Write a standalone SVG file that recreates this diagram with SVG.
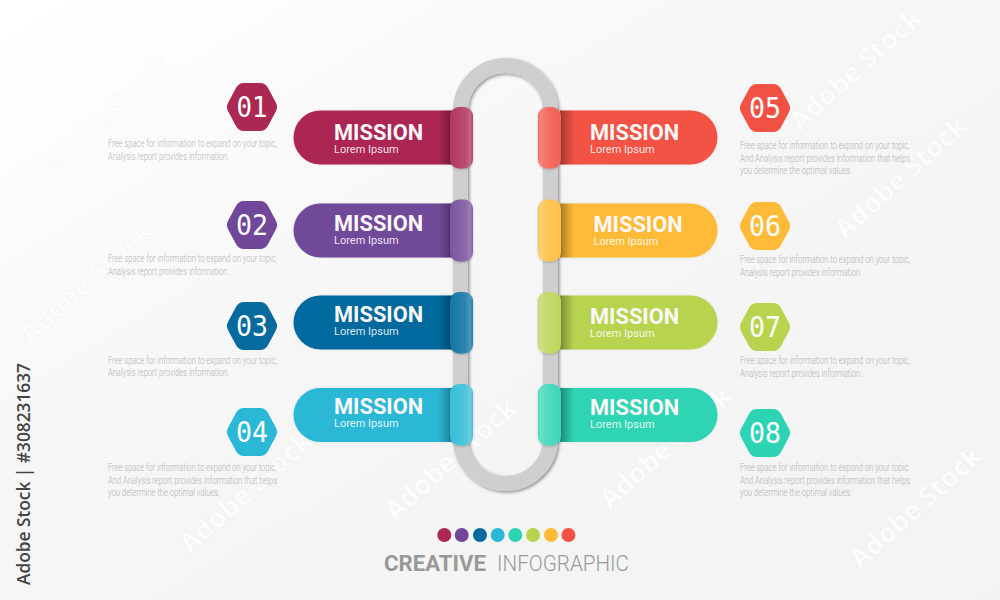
<svg xmlns="http://www.w3.org/2000/svg" width="1000" height="600" viewBox="0 0 1000 600">
<style>
.m{font-family:Roboto,"Liberation Sans",sans-serif;font-weight:700;font-size:21.800px;fill:#fbf7f8}
.l{font-family:Roboto,"Liberation Sans",sans-serif;font-size:11px;fill:#fff;fill-opacity:.88}
.n{font-family:"DejaVu Sans Mono",monospace;font-size:29px;fill:#fff;text-anchor:middle}
.d{font-family:Roboto,"Liberation Sans",sans-serif;font-weight:300;font-size:10px;fill:#b3b3b3}
.w{font-family:"Open Sans","Liberation Sans",sans-serif;font-weight:700;font-size:27px;fill:#fdfdfd;stroke:#e6e6e6;stroke-opacity:.35;stroke-width:.6}
.hx{stroke-width:18;stroke-linejoin:round}
.c1{fill:#ab2853;stroke:#ab2853}.c2{fill:#714899;stroke:#714899}.c3{fill:#066a9e;stroke:#066a9e}.c4{fill:#2bb8d6;stroke:#2bb8d6}
.c5{fill:#f25244;stroke:#f25244}.c6{fill:#ffbb38;stroke:#ffbb38}.c7{fill:#b8d44f;stroke:#b8d44f}.c8{fill:#2dd4b3;stroke:#2dd4b3}
.bar,.tab{stroke:none}
.sl{fill:url(#shL)}.sr{fill:url(#shR)}
.ol{fill:url(#glL)}.or{fill:url(#glR)}
</style>
<defs>
<linearGradient id="bg" x1="0" y1="0" x2="1" y2="1"><stop offset="0" stop-color="#fff"/><stop offset=".45" stop-color="#f6f6f6"/><stop offset="1" stop-color="#f3f3f3"/></linearGradient>
<linearGradient id="shL" x1="0" x2="1" y1="0" y2="0"><stop offset="0" stop-color="#000" stop-opacity="0"/><stop offset="1" stop-color="#000" stop-opacity=".3"/></linearGradient>
<linearGradient id="shR" x1="1" x2="0" y1="0" y2="0"><stop offset="0" stop-color="#000" stop-opacity="0"/><stop offset="1" stop-color="#000" stop-opacity=".34"/></linearGradient>
<linearGradient id="glL" x1="0" x2="1" y1="0" y2="0"><stop offset="0" stop-color="#fff" stop-opacity=".08"/><stop offset=".65" stop-color="#fff" stop-opacity=".17"/><stop offset=".88" stop-color="#fff" stop-opacity=".3"/><stop offset="1" stop-color="#fff" stop-opacity=".12"/></linearGradient>
<linearGradient id="glR" x1="1" x2="0" y1="0" y2="0"><stop offset="0" stop-color="#fff" stop-opacity=".08"/><stop offset=".65" stop-color="#fff" stop-opacity=".17"/><stop offset=".88" stop-color="#fff" stop-opacity=".3"/><stop offset="1" stop-color="#fff" stop-opacity=".12"/></linearGradient>
<filter id="ds" x="-20%" y="-20%" width="140%" height="140%"><feDropShadow dx="1.500" dy="1.500" stdDeviation="1.500" flood-color="#000" flood-opacity=".42"/></filter>
<filter id="ts" x="-30%" y="-10%" width="160%" height="120%"><feDropShadow dx="0" dy="1" stdDeviation="1.200" flood-color="#000" flood-opacity=".22"/></filter>
<filter id="bs" x="-5%" y="-10%" width="110%" height="120%"><feDropShadow dx="0" dy="0" stdDeviation=".8" flood-color="#000" flood-opacity=".12"/></filter>
<path id="bl" d="M452 0H320.500A27 27 0 0 0 320.500 54H452Z"/>
<path id="br" d="M560 0H690.500A27 27 0 0 1 690.500 54H560Z"/>
<polygon id="hex" points="-8,-15 8,-15 16,0 8,15 -8,15 -16,0"/>
</defs>
<rect width="1000" height="600" fill="url(#bg)"/>
<g id="watermark">
<text class="w" transform="translate(50 178) rotate(-42)">Adobe Stock</text>
<text class="w" transform="translate(800 132) rotate(-42)">Adobe Stock</text>
<text class="w" transform="translate(845 240) rotate(-42)">Adobe Stock</text>
<text class="w" transform="translate(30 345) rotate(-42)">Adobe Stock</text>
<text class="w" transform="translate(395 522) rotate(-42)">Adobe Stock</text>
<text class="w" transform="translate(610 510) rotate(-42)">Adobe Stock</text>
<text class="w" transform="translate(860 570) rotate(-42)">Adobe Stock</text>
<text class="w" transform="translate(190 555) rotate(-42)">Adobe Stock</text>
</g>
<g id="connectors">
<rect id="track" x="460.500" y="65.500" width="90" height="418" rx="45" ry="45" fill="none" stroke="#cfcfcf" stroke-width="15" filter="url(#ds)"/>
</g>
<g id="node-1">
<use href="#hex" class="hx c1" x="252" y="107"/><text class="n" x="252" y="117" textLength="31" lengthAdjust="spacingAndGlyphs">01</text>
<text class="d" x="108" y="147" textLength="169" lengthAdjust="spacingAndGlyphs">Free space for information to expand on your topic,</text>
<text class="d" x="108" y="159.500" textLength="121" lengthAdjust="spacingAndGlyphs">Analysis report provides information.</text>
<use href="#bl" class="bar c1" y="110.500" filter="url(#bs)"/><rect class="sl" x="438" y="110.500" width="14" height="54"/>
<g filter="url(#ts)"><rect class="tab c1" x="450" y="107" width="23" height="61.500" rx="9"/></g><rect class="ol" x="450" y="107" width="23" height="61.500" rx="9"/>
<text class="m" x="334" y="140">MISSION</text><text class="l" x="334" y="153">Lorem Ipsum</text>
</g>
<g id="node-2">
<use href="#hex" class="hx c2" x="252" y="225"/><text class="n" x="252" y="235" textLength="32" lengthAdjust="spacingAndGlyphs">02</text>
<text class="d" x="108" y="262" textLength="169" lengthAdjust="spacingAndGlyphs">Free space for information to expand on your topic,</text>
<text class="d" x="108" y="274.500" textLength="121" lengthAdjust="spacingAndGlyphs">Analysis report provides information.</text>
<use href="#bl" class="bar c2" y="203.500" filter="url(#bs)"/><rect class="sl" x="438" y="203.500" width="14" height="54"/>
<g filter="url(#ts)"><rect class="tab c2" x="450" y="199.500" width="23" height="62" rx="9"/></g><rect class="ol" x="450" y="199.500" width="23" height="62" rx="9"/>
<text class="m" x="334" y="231">MISSION</text><text class="l" x="334" y="244">Lorem Ipsum</text>
</g>
<g id="node-3">
<use href="#hex" class="hx c3" x="252" y="326"/><text class="n" x="252" y="336" textLength="32" lengthAdjust="spacingAndGlyphs">03</text>
<text class="d" x="108" y="363.500" textLength="169" lengthAdjust="spacingAndGlyphs">Free space for information to expand on your topic,</text>
<text class="d" x="108" y="376" textLength="121" lengthAdjust="spacingAndGlyphs">Analysis report provides information.</text>
<use href="#bl" class="bar c3" y="295.500" filter="url(#bs)"/><rect class="sl" x="438" y="295.500" width="14" height="54"/>
<g filter="url(#ts)"><rect class="tab c3" x="450" y="292" width="23" height="61.500" rx="9"/></g><rect class="ol" x="450" y="292" width="23" height="61.500" rx="9"/>
<text class="m" x="334" y="322">MISSION</text><text class="l" x="334" y="335">Lorem Ipsum</text>
</g>
<g id="node-4">
<use href="#hex" class="hx c4" x="252" y="432"/><text class="n" x="252" y="442" textLength="32" lengthAdjust="spacingAndGlyphs">04</text>
<text class="d" x="108" y="471" textLength="169" lengthAdjust="spacingAndGlyphs">Free space for information to expand on your topic.</text>
<text class="d" x="108" y="483.500" textLength="169" lengthAdjust="spacingAndGlyphs">And Analysis report provides information that helps</text>
<text class="d" x="108" y="496" textLength="112" lengthAdjust="spacingAndGlyphs">you determine the optimal values.</text>
<use href="#bl" class="bar c4" y="388" filter="url(#bs)"/><rect class="sl" x="438" y="388" width="14" height="54"/>
<g filter="url(#ts)"><rect class="tab c4" x="450" y="384" width="23" height="61.500" rx="9"/></g><rect class="ol" x="450" y="384" width="23" height="61.500" rx="9"/>
<text class="m" x="334" y="414">MISSION</text><text class="l" x="334" y="427">Lorem Ipsum</text>
</g>
<g id="node-5">
<use href="#hex" class="hx c5" x="765" y="108"/><text class="n" x="765" y="118" textLength="32" lengthAdjust="spacingAndGlyphs">05</text>
<text class="d" x="740" y="149" textLength="170" lengthAdjust="spacingAndGlyphs">Free space for information to expand on your topic.</text>
<text class="d" x="740" y="161.500" textLength="170" lengthAdjust="spacingAndGlyphs">And Analysis report provides information that helps</text>
<text class="d" x="740" y="174" textLength="112" lengthAdjust="spacingAndGlyphs">you determine the optimal values.</text>
<use href="#br" class="bar c5" y="110.500" filter="url(#bs)"/><rect class="sr" x="560" y="110.500" width="14" height="54"/>
<g filter="url(#ts)"><rect class="tab c5" x="538" y="107" width="23" height="61.500" rx="9"/></g><rect class="or" x="538" y="107" width="23" height="61.500" rx="9"/>
<text class="m" x="590" y="139.500">MISSION</text><text class="l" x="590" y="152.500">Lorem Ipsum</text>
</g>
<g id="node-6">
<use href="#hex" class="hx c6" x="765" y="226"/><text class="n" x="765" y="236" textLength="32" lengthAdjust="spacingAndGlyphs">06</text>
<text class="d" x="740" y="263" textLength="170" lengthAdjust="spacingAndGlyphs">Free space for information to expand on your topic,</text>
<text class="d" x="740" y="275.500" textLength="122" lengthAdjust="spacingAndGlyphs">Analysis report provides information.</text>
<use href="#br" class="bar c6" y="203.500" filter="url(#bs)"/><rect class="sr" x="560" y="203.500" width="14" height="54"/>
<g filter="url(#ts)"><rect class="tab c6" x="538" y="199.500" width="23" height="62" rx="9"/></g><rect class="or" x="538" y="199.500" width="23" height="62" rx="9"/>
<text class="m" x="593.500" y="232">MISSION</text><text class="l" x="593.500" y="245">Lorem Ipsum</text>
</g>
<g id="node-7">
<use href="#hex" class="hx c7" x="765" y="327"/><text class="n" x="765" y="337" textLength="32" lengthAdjust="spacingAndGlyphs">07</text>
<text class="d" x="740" y="364" textLength="170" lengthAdjust="spacingAndGlyphs">Free space for information to expand on your topic,</text>
<text class="d" x="740" y="376.500" textLength="122" lengthAdjust="spacingAndGlyphs">Analysis report provides information.</text>
<use href="#br" class="bar c7" y="295.500" filter="url(#bs)"/><rect class="sr" x="560" y="295.500" width="14" height="54"/>
<g filter="url(#ts)"><rect class="tab c7" x="538" y="292" width="23" height="61.500" rx="9"/></g><rect class="or" x="538" y="292" width="23" height="61.500" rx="9"/>
<text class="m" x="590" y="324">MISSION</text><text class="l" x="590" y="337">Lorem Ipsum</text>
</g>
<g id="node-8">
<use href="#hex" class="hx c8" x="765" y="433"/><text class="n" x="765" y="443" textLength="32" lengthAdjust="spacingAndGlyphs">08</text>
<text class="d" x="740" y="471" textLength="170" lengthAdjust="spacingAndGlyphs">Free space for information to expand on your topic.</text>
<text class="d" x="740" y="483.500" textLength="170" lengthAdjust="spacingAndGlyphs">And Analysis report provides information that helps</text>
<text class="d" x="740" y="496" textLength="112" lengthAdjust="spacingAndGlyphs">you determine the optimal values.</text>
<use href="#br" class="bar c8" y="388" filter="url(#bs)"/><rect class="sr" x="560" y="388" width="14" height="54"/>
<g filter="url(#ts)"><rect class="tab c8" x="538" y="384" width="23" height="61.500" rx="9"/></g><rect class="or" x="538" y="384" width="23" height="61.500" rx="9"/>
<text class="m" x="590" y="415">MISSION</text><text class="l" x="590" y="428">Lorem Ipsum</text>
</g>
<g id="legend">
<circle cx="444.300" cy="535" r="7" fill="#ab2853"/><circle cx="461.700" cy="535" r="7" fill="#714899"/><circle cx="480" cy="535" r="7" fill="#066a9e"/><circle cx="497.700" cy="535" r="7" fill="#2bb8d6"/><circle cx="515.300" cy="535" r="7" fill="#2dd4b3"/><circle cx="533" cy="535" r="7" fill="#b8d44f"/><circle cx="551" cy="535" r="7" fill="#ffbb38"/><circle cx="568.500" cy="535" r="7" fill="#f25244"/>
<text x="384" y="570.500" font-family="Roboto,'Liberation Sans',sans-serif" font-weight="700" font-size="22" fill="#999" textLength="102" lengthAdjust="spacingAndGlyphs">CREATIVE</text>
<text x="497" y="570.500" font-family="Roboto,'Liberation Sans',sans-serif" font-weight="300" font-size="22" fill="#999" textLength="132" lengthAdjust="spacingAndGlyphs">INFOGRAPHIC</text>
</g>
<text transform="translate(30 585) rotate(-90)" font-family="'Open Sans','Noto Sans',sans-serif" font-weight="600" font-size="17.500" fill="#444" textLength="222" lengthAdjust="spacingAndGlyphs">Adobe Stock | #308231637</text>
</svg>
